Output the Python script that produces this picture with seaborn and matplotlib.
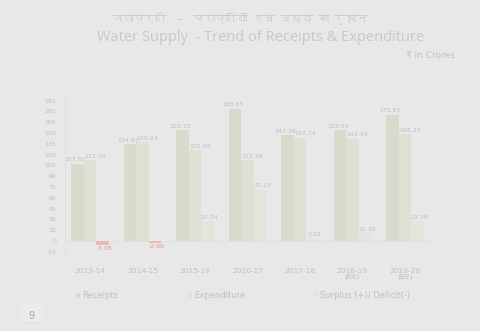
import matplotlib
matplotlib.use("Agg")
import matplotlib.pyplot as plt
from matplotlib import font_manager, ft2font
from matplotlib.patches import Patch, FancyBboxPatch
import seaborn as sns
import pandas as pd

years = ["2013-14", "2014-15", "2015-16", "2016-17", "2017-18", "2018-19\n(RE)", "2019-20\n(BE)"]
receipts = [107.65, 134.87, 153.72, 183.55, 147.26, 153.64, 175.61]
expenditure = [112.70, 136.93, 125.98, 112.28, 143.74, 142.34, 148.33]
surplus = [-5.05, -2.06, 27.74, 71.27, 3.52, 11.30, 27.28]
series_names = ["Receipts", "Expenditure", "Surplus (+)/ Deficit(-)"]
yticks = list(range(-15, 196, 15))

title_hi = "जलापूर्ति  –  प्राप्तियों एवं व्यय का रुझान"
title_en = "Water Supply  - Trend of Receipts & Expenditure"
unit_text = "₹ In Crores"

# find a font that covers Devanagari
deva_family = None
for f in font_manager.fontManager.ttflist:
    try:
        cm = ft2font.FT2Font(f.fname).get_charmap()
    except Exception:
        continue
    if ord("ज") in cm and ord("्") in cm:
        deva_family = f.name
        break

sns.set_theme(style="white")
plt.rcParams["font.family"] = ["DejaVu Sans", "Noto Sans"]

bg = "#e8e8e8"
txt = "#bfbfbf"
colors = ["#d7dbcc", "#dde1d4", "#e3e5dd"]
neg_color = "#ecb8b8"

df = pd.DataFrame({
    "year": years * 3,
    "series": [series_names[0]] * 7 + [series_names[1]] * 7 + [series_names[2]] * 7,
    "value": receipts + expenditure + surplus,
})

fig = plt.figure(figsize=(4.8, 3.31), dpi=100, facecolor=bg)
ax = fig.add_axes([0.135, 0.228, 0.771, 0.479])
ax.set_facecolor(bg)

sns.barplot(data=df, x="year", y="value", hue="series", palette=colors,
            width=0.72, ax=ax, legend=False, saturation=1)

offsets = [-1.5, 3.5, 1.5]
for ci, cont in enumerate(ax.containers):
    vals = [receipts, expenditure, surplus][ci]
    for p, v in zip(cont.patches, vals):
        p.set_edgecolor("none")
        if v < 0:
            p.set_facecolor(neg_color)
    labels = ["%.2f" % v for v in vals]
    texts = ax.bar_label(cont, labels=labels, fontsize=4.5, color=txt, padding=1)
    for t, v in zip(texts, vals):
        dx, dy = t.xyann
        t.xyann = (dx + offsets[ci], dy)
        if v < 0:
            t.set_color("#e89090")

ax.set_ylim(-20, 200)
ax.set_xlim(-0.48, 6.57)
ax.set_yticks(yticks)
ax.set_yticklabels([str(y) for y in yticks])
ax.tick_params(axis="y", labelsize=4.5, colors=txt, length=0, pad=6)
ax.tick_params(axis="x", labelsize=5.3, colors=txt, length=0, pad=9)
for lab in ax.get_xticklabels():
    lab.set_linespacing(0.9)
ax.set_xlabel("")
ax.set_ylabel("")
for s in ["top", "right", "bottom"]:
    ax.spines[s].set_visible(False)
ax.spines["left"].set_color("#dedede")
ax.spines["left"].set_linewidth(0.6)
ax.axhline(0, color="#e1e1e1", lw=0.8, zorder=0)

handles = [Patch(facecolor=c, edgecolor="none") for c in colors]
fig.legend(handles, series_names, loc="center left", bbox_to_anchor=(0.143, 0.106),
           ncol=3, frameon=False, fontsize=6, labelcolor=txt,
           handlelength=0.45, handleheight=0.45, handletextpad=0.3, columnspacing=8.3)

if deva_family:
    fig.text(0.5, 0.945, title_hi, ha="center", va="center", fontsize=7.8,
             color="#c6c6c6", family=[deva_family, "DejaVu Sans"])
else:
    fig.text(0.5, 0.945, title_hi, ha="center", va="center", fontsize=7.8, color="#c6c6c6")
fig.text(0.542, 0.887, title_en, ha="center", va="center", fontsize=10.5,
         color="#c8c8c8", family=["Open Sans", "DejaVu Sans"])
fig.text(0.947, 0.833, unit_text, ha="right", va="center", fontsize=6.5, color=txt)

box = FancyBboxPatch((0.045, 0.03), 0.045, 0.05, boxstyle="round,pad=0.005,rounding_size=0.01",
                     transform=fig.transFigure, facecolor="#ebebeb", edgecolor="#e2e2e2", lw=0.6)
fig.patches.append(box)
fig.text(0.066, 0.045, "9", ha="center", va="center", fontsize=7, color="#a8a8a8")

fig.savefig("out.png", dpi=100, facecolor=bg)
